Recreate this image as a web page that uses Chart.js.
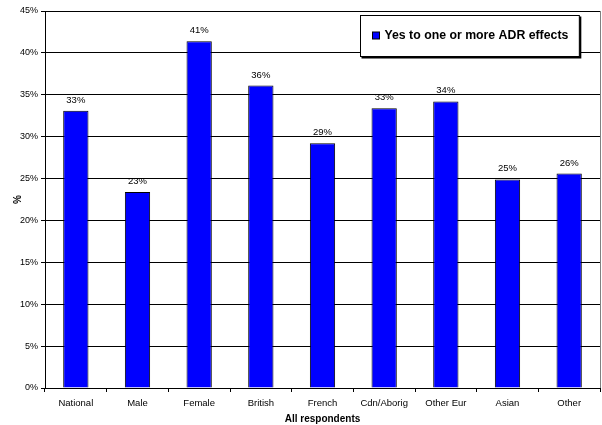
<!DOCTYPE html>
<html>
<head>
<meta charset="utf-8">
<script src="https://cdn.jsdelivr.net/npm/chart.js@4"></script>
<style>
  html, body { margin: 0; padding: 0; background: #fff; }
  #contenedor { width: 602px; height: 425px; }
</style>
</head>
<body>
<div id="contenedor"><canvas id="grafico" width="602" height="425"></canvas></div>
<script>
// datos de la encuesta: % que responde "sí" a uno o más efectos ADR
var categorias = ['National', 'Male', 'Female', 'British', 'French', 'Cdn/Aborig', 'Other Eur', 'Asian', 'Other'];
var valores = [33.1, 23.4, 41.4, 36.1, 29.2, 33.4, 34.2, 24.9, 25.6];
var nombreSerie = 'Yes to one or more ADR effects';
var tituloX = 'All respondents';
var tituloY = '%';
var maxY = 45;
var pasoY = 5;

Chart.defaults.font.family = "'Liberation Sans', Arial, sans-serif";
Chart.defaults.color = '#000';

// porcentaje redondeado encima de cada barra
var etiquetasBarras = {
  id: 'etiquetasBarras',
  afterDatasetsDraw: function(chart) {
    var ctx = chart.ctx;
    var meta = chart.getDatasetMeta(0);
    ctx.save();
    ctx.font = "9.5px 'Liberation Sans', Arial, sans-serif";
    ctx.fillStyle = '#000';
    ctx.textAlign = 'center';
    ctx.textBaseline = 'alphabetic';
    meta.data.forEach(function(barra, i) {
      var v = chart.data.datasets[0].data[i];
      ctx.fillText(Math.round(v) + '%', barra.x, barra.y - 8);
    });
    ctx.restore();
  }
};

// borde derecho del área de trazado
var marco = {
  id: 'marco',
  beforeDatasetsDraw: function(chart) {
    var a = chart.chartArea;
    var ctx = chart.ctx;
    ctx.save();
    ctx.strokeStyle = '#808080';
    ctx.lineWidth = 1;
    ctx.beginPath();
    ctx.moveTo(Math.round(a.right) + 0.5, a.top);
    ctx.lineTo(Math.round(a.right) + 0.5, a.bottom);
    ctx.stroke();
    ctx.restore();
  }
};

// leyenda en recuadro blanco arriba a la derecha
var leyenda = {
  id: 'leyenda',
  afterDraw: function(chart) {
    var a = chart.chartArea;
    var ctx = chart.ctx;
    var ds = chart.data.datasets[0];
    ctx.save();
    ctx.font = "bold 12.3px 'Liberation Sans', Arial, sans-serif";
    var anchoTexto = ctx.measureText(ds.label).width;
    var ancho = 12 + 7 + 5 + anchoTexto + 11;
    var alto = 41;
    var x = Math.round(a.right - 21 - ancho) + 0.5;
    var y = Math.round(a.top + 4) + 0.5;
    // sombra
    ctx.fillStyle = '#000';
    ctx.fillRect(x + 1, y + 1, ancho + 1, alto + 1);
    ctx.fillStyle = '#fff';
    ctx.fillRect(x, y, ancho, alto);
    ctx.strokeStyle = '#000';
    ctx.lineWidth = 1;
    ctx.strokeRect(x, y, ancho, alto);
    var cy = y + alto / 2;
    ctx.fillStyle = ds.backgroundColor;
    ctx.fillRect(x + 12, cy - 4, 7, 7);
    ctx.strokeStyle = ds.borderColor;
    ctx.strokeRect(x + 12, cy - 4, 7, 7);
    ctx.fillStyle = '#000';
    ctx.textBaseline = 'middle';
    ctx.fillText(ds.label, x + 24, cy);
    ctx.restore();
  }
};

new Chart(document.getElementById('grafico'), {
  type: 'bar',
  data: {
    labels: categorias,
    datasets: [{
      label: nombreSerie,
      data: valores,
      backgroundColor: '#0000FF',
      borderColor: '#000',
      borderWidth: 1,
      barPercentage: 0.41,
      categoryPercentage: 1
    }]
  },
  options: {
    responsive: false,
    animation: false,
    devicePixelRatio: 1,
    layout: { padding: { top: 11, right: 2, left: 0, bottom: 0 } },
    plugins: {
      legend: { display: false },
      tooltip: { enabled: false }
    },
    scales: {
      x: {
        afterFit: function(scale) { scale.height = 37; },
        grid: { drawOnChartArea: false, tickLength: 4, color: '#000', offset: true },
        border: { color: '#000' },
        ticks: {
          padding: 6,
          maxRotation: 0,
          autoSkip: false,
          font: { size: 9.5 }
        },
        title: {
          display: true,
          text: tituloX,
          padding: { top: 0, bottom: 0 },
          font: { size: 10, weight: 'bold' }
        }
      },
      y: {
        min: 0,
        max: maxY,
        afterFit: function(scale) { scale.width = 45; },
        grid: { color: '#000', tickLength: 4 },
        border: { color: '#000' },
        ticks: {
          stepSize: pasoY,
          padding: 3,
          font: { size: 9 },
          callback: function(v) { return v + '%'; }
        },
        title: {
          display: true,
          text: tituloY,
          padding: { top: 12, bottom: 0 },
          font: { size: 10, weight: 'bold' }
        }
      }
    }
  },
  plugins: [marco, etiquetasBarras, leyenda]
});
</script>
</body>
</html>
